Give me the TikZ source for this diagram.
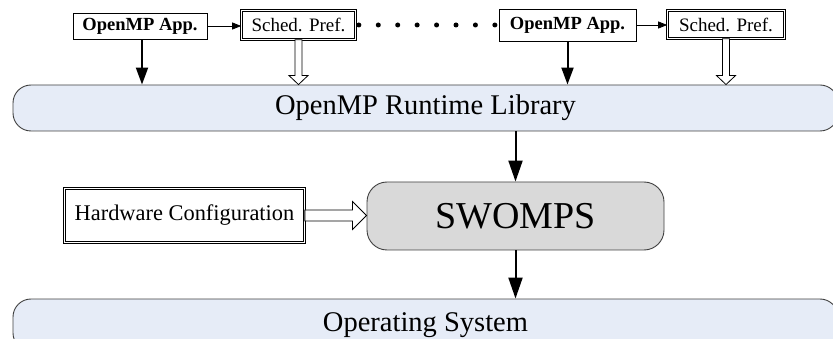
\documentclass[tikz,border=0pt]{standalone}
\usepackage{fontspec}
\setmainfont{Liberation Serif}
\usetikzlibrary{arrows.meta,calc,positioning}

\begin{document}
\begin{tikzpicture}[x=1pt,y=-1pt,line join=miter,
  appbox/.style={draw=black,line width=0.8pt,fill=white,inner sep=0pt,
    font=\fontsize{18.5}{20}\selectfont\bfseries},
  prefbox/.style={draw=black,double=white,double distance=1.6pt,line width=0.7pt,
    inner sep=0pt,font=\fontsize{19}{21}\selectfont},
  layerbar/.style={draw=black!75,line width=0.9pt,fill=barblue,rounded corners=18pt,
    inner sep=0pt,font=\fontsize{28.5}{30}\selectfont},
  corebox/.style={draw=black!75,line width=0.9pt,fill=coregray,rounded corners=20pt,
    inner sep=0pt,font=\fontsize{38}{40}\selectfont},
  thinarrow/.style={line width=0.8pt,-{Triangle[length=9pt,width=7pt]}},
  thickarrow/.style={line width=2pt,-{Triangle[length=17pt,width=12pt]}},
  bigarrow/.style={line width=2pt,-{Triangle[length=21pt,width=14pt]}},
  dotsline/.style={line width=5pt,line cap=round,dash pattern=on 0pt off 19.43pt,
    shorten <=3pt,shorten >=3pt},
  hollowdown/.style={draw=black,fill=white,line width=0.8pt,
    to path={let \p1=(\tikztostart), \p2=(\tikztotarget) in
      (\x1-3.5pt,\y1) -- (\x1-3.5pt,\y2+9pt) -- (\x1-9.5pt,\y2+9pt) -- (\x1,\y2)
      -- (\x1+9.5pt,\y2+9pt) -- (\x1+3.5pt,\y2+9pt) -- (\x1+3.5pt,\y1) -- cycle}},
  hollowright/.style={draw=black,fill=white,line width=0.8pt,
    to path={let \p1=(\tikztostart), \p2=(\tikztotarget) in
      (\x1,\y1+5.5pt) -- (\x2-14pt,\y1+5.5pt) -- (\x2-14pt,\y1+14pt) -- (\x2,\y1)
      -- (\x2-14pt,\y1-14pt) -- (\x2-14pt,\y1-5.5pt) -- (\x1,\y1-5.5pt) -- cycle}}]
  \definecolor{barblue}{RGB}{230,236,247}
  \definecolor{coregray}{RGB}{217,217,217}
  \useasboundingbox (0,0) rectangle (833,339);
  % Node: runtime layer
  \node[layerbar,minimum width=825pt,minimum height=46pt] (rt) at (425.5,108) {OpenMP Runtime Library};
  % Node: operating system layer
  \node[layerbar,minimum width=825pt,minimum height=52pt] (os) at (425.5,325) {Operating System};
  % Node: app0
  \node[appbox,minimum width=134pt,minimum height=26pt] (app0) at (140,26) {OpenMP App.};
  % Node: pref0
  \node[prefbox,minimum width=114pt,minimum height=29pt] (pref0) at (298.5,25) {Sched. Pref.};
  % Node: app1
  \node[appbox,minimum width=137pt,minimum height=32pt] (app1) at (567.5,25) {OpenMP App.};
  % Node: pref1
  \node[prefbox,minimum width=117pt,minimum height=28pt] (pref1) at (726,24.5) {Sched. Pref.};
  % Node: swomps
  \node[corebox,minimum width=297pt,minimum height=68pt] (swomps) at (515.5,216) {SWOMPS};
  % Node: hwconf
  \node[prefbox,minimum width=240pt,minimum height=54pt,font=\fontsize{22.4}{24}\selectfont] (hwconf) at (184.5,215.5) {Hardware Configuration};
  % Edge: app0 -> pref0
  \draw[thinarrow] (app0.east) -- (app0.east -| pref0.west);
  % Edge: app1 -> pref1
  \draw[thinarrow] (app1.east) -- (app1.east -| pref1.west);
  % Edge: pref0 .. app1
  \draw[dotsline] (pref0.east) -- (pref0.east -| app1.west);
  % Edge: apps -> rt
  \draw[thickarrow] ([xshift=2pt]app0.south) -- ([xshift=2pt]app0.south |- rt.north);
  \draw[thickarrow] (app1.south) -- (app1.south |- rt.north);
  % Edge: prefs -> rt
  \draw[hollowdown] (pref0.south) to (pref0.south |- rt.north);
  \draw[hollowdown] (pref1.south) to (pref1.south |- rt.north);
  % Edge: hwconf -> swomps
  \draw[hollowright] (hwconf.east) to (swomps.west);
  % Edge: rt -> swomps -> os
  \draw[bigarrow] (swomps.north |- rt.south) -- (swomps.north);
  \draw[bigarrow] (swomps.south) -- (swomps.south |- os.north);
\end{tikzpicture}
\end{document}
